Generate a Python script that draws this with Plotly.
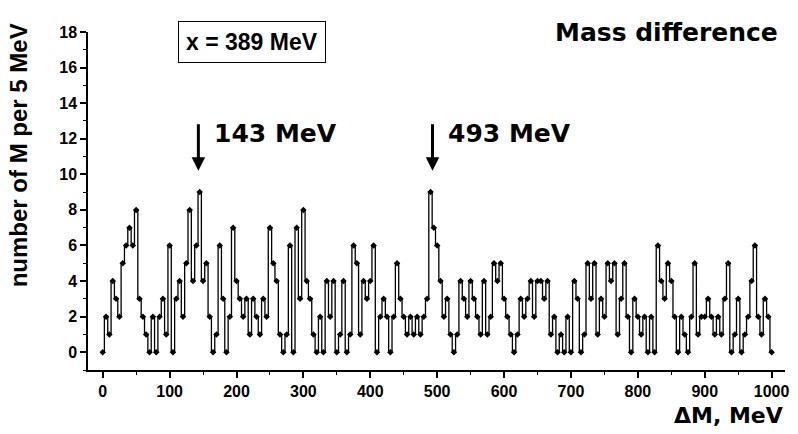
import plotly.graph_objects as go

# Bin positions (MeV) and counts per 5 MeV
mass_diff = list(range(0, 1005, 5))
counts = [
    0, 2, 1, 4, 3, 2, 5, 6, 7, 6, 8, 3, 2, 1, 0, 2, 0, 2, 3, 1,      # 0-95
    6, 0, 3, 4, 2, 5, 8, 4, 6, 9, 4, 5, 2, 0, 1, 6, 3, 0, 2, 7,      # 100-195
    4, 3, 2, 3, 1, 3, 2, 1, 3, 2, 7, 5, 4, 1, 0, 1, 6, 0, 7, 3,      # 200-295
    8, 4, 3, 1, 0, 2, 0, 4, 2, 4, 0, 1, 4, 0, 1, 6, 5, 1, 4, 3,      # 300-395
    4, 6, 0, 2, 3, 2, 0, 2, 5, 3, 2, 1, 2, 1, 2, 1, 2, 3, 9, 7,      # 400-495
    6, 4, 2, 3, 1, 0, 1, 4, 3, 2, 4, 3, 2, 1, 4, 1, 2, 5, 4, 5,      # 500-595
    3, 2, 1, 0, 1, 3, 2, 3, 4, 2, 4, 4, 3, 4, 1, 2, 0, 1, 0, 2,      # 600-695
    0, 4, 3, 0, 1, 5, 3, 5, 1, 3, 2, 5, 4, 5, 1, 3, 5, 2, 0, 3,      # 700-795
    2, 1, 2, 0, 2, 0, 6, 4, 3, 5, 4, 2, 0, 2, 1, 0, 2, 5, 1, 2,      # 800-895
    2, 3, 2, 1, 2, 1, 3, 5, 0, 1, 3, 0, 1, 2, 4, 6, 2, 1, 3, 2, 0,   # 900-1000
]

peak_positions = [143, 493]
peak_labels = ["143 MeV", "493 MeV"]
x_ticks = list(range(0, 1001, 100))
y_ticks = list(range(0, 19, 2))

FONT = "Liberation Sans"
WIDE = "DejaVu Sans"

fig = go.Figure()
fig.add_trace(go.Scatter(
    x=mass_diff, y=counts, mode="lines+markers",
    line=dict(color="black", width=1.3, shape="hvh"),
    marker=dict(color="black", size=5, symbol="diamond"),
    showlegend=False,
))

for pos, lab in zip(peak_positions, peak_labels):
    fig.add_annotation(x=pos, y=10.2, xref="x", yref="y", text="",
                       showarrow=True, ax=0, ay=-48, arrowhead=2,
                       arrowsize=0.9, arrowwidth=3, arrowcolor="black")
    fig.add_annotation(x=pos + 20, y=12.3, xref="x", yref="y",
                       text="<b>" + lab + "</b>", showarrow=False,
                       xanchor="left", yanchor="middle",
                       font=dict(family=WIDE, size=25, color="black"))

fig.add_annotation(x=0.235, y=0.97, xref="paper", yref="paper",
                   text="<b>x = 389 MeV</b>", showarrow=False,
                   xanchor="center", yanchor="middle",
                   bordercolor="black", borderwidth=1, borderpad=7,
                   font=dict(family=FONT, size=23, color="black"))
fig.add_annotation(x=0.993, y=1.0, xref="paper", yref="paper",
                   text="<b>Mass difference</b>", showarrow=False,
                   xanchor="right", yanchor="middle",
                   font=dict(family=WIDE, size=25, color="black"))
fig.add_annotation(x=1.0, y=-0.092, xref="paper", yref="paper",
                   text="<b>ΔM, MeV</b>", showarrow=False,
                   xanchor="right", yanchor="top",
                   font=dict(family=WIDE, size=22, color="black"))
fig.add_annotation(x=-0.1, y=0.636, xref="paper", yref="paper",
                   text="<b>number of M per 5 MeV</b>", showarrow=False,
                   textangle=-90, xanchor="center", yanchor="middle",
                   font=dict(family=FONT, size=24, color="black"))

axis_common = dict(showline=True, linecolor="black", linewidth=1.5,
                   ticks="outside", ticklen=6, tickwidth=1.5,
                   tickcolor="black", showgrid=False, zeroline=False,
                   automargin=False,
                   tickfont=dict(family=FONT, size=16, color="black",
                                 weight="bold"))
fig.update_xaxes(range=[-22, 1020], tickvals=x_ticks,
                 minor=dict(dtick=50, tick0=0, ticks="outside", ticklen=3,
                            tickcolor="black", tickwidth=1),
                 **axis_common)
fig.update_yaxes(range=[-1, 18], tickvals=y_ticks,
                 minor=dict(dtick=1, tick0=0, ticks="outside", ticklen=3,
                            tickcolor="black", tickwidth=1),
                 **axis_common)

fig.update_layout(
    width=798, height=434,
    margin=dict(l=88, r=13, t=32, b=64),
    paper_bgcolor="white", plot_bgcolor="white",
    font=dict(family=FONT, color="black"),
)

fig.write_html("out.html")
